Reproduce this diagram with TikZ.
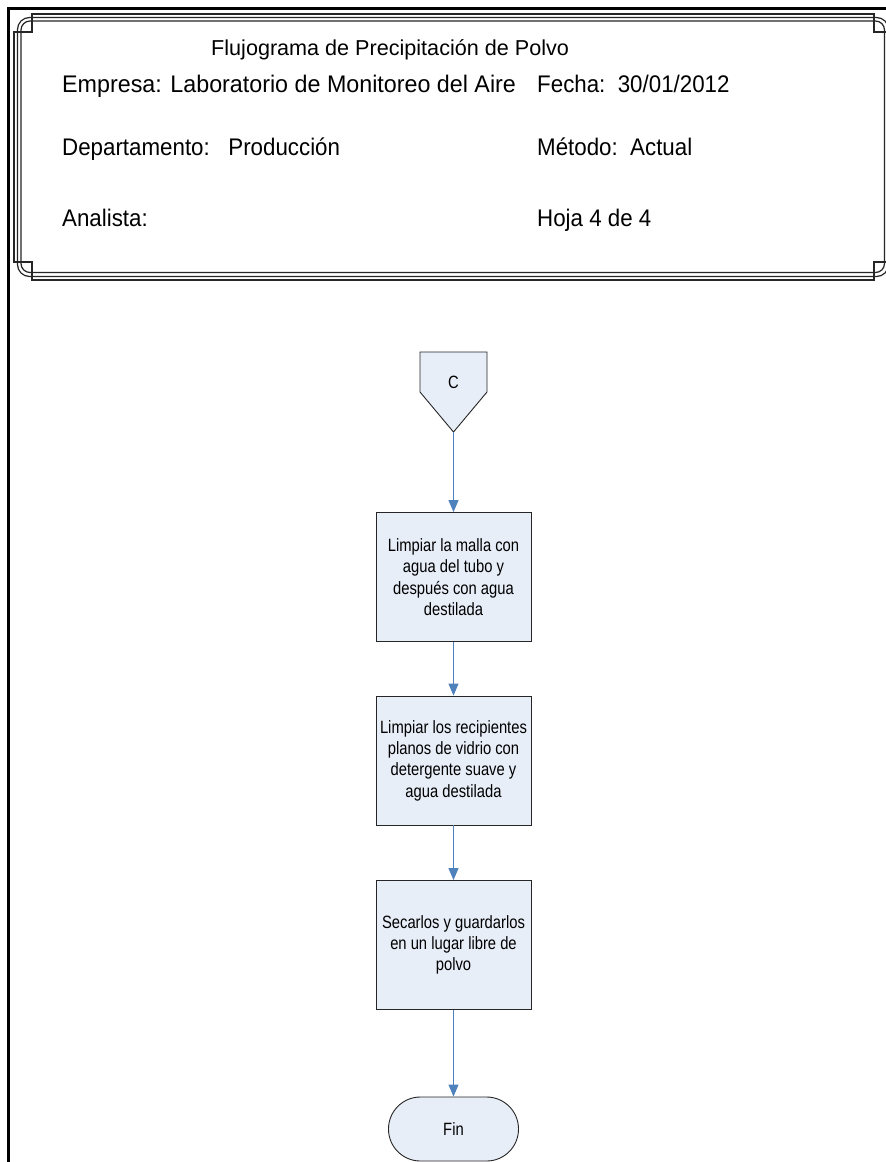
\documentclass[tikz,border=0pt]{standalone}
\usepackage{fontspec}
\setmainfont{Liberation Sans}
\newfontfamily\hdrfont[FakeStretch=0.93]{Liberation Sans}
\newfontfamily\widefont[FakeStretch=0.97]{Liberation Sans}
\newfontfamily\boxfont[FakeStretch=0.83]{Liberation Sans}
\usetikzlibrary{arrows.meta}
\definecolor{flowfill}{HTML}{E8EEF8}
\definecolor{flowblue}{HTML}{4F81BD}
\begin{document}
\begin{tikzpicture}[x=1pt,y=-1pt,
  framefine/.style={line width=1.2pt,black!85},
  hdr/.style={anchor=base west,inner sep=0pt,font=\fontsize{24}{24}\selectfont\hdrfont},
  stepbox/.style={draw=black!85,line width=0.9pt,fill=flowfill,minimum width=155pt,minimum height=129pt,inner sep=0pt,align=center,font=\fontsize{17.8}{21.3}\selectfont\boxfont},
  endbox/.style={draw=black!85,line width=0.9pt,fill=flowfill,minimum width=130pt,minimum height=64pt,rounded corners=31.9pt,inner sep=0pt,font=\fontsize{17.8}{21}\selectfont\boxfont},
  arr/.style={draw=flowblue,line width=1pt,-{Triangle[length=12pt,width=10pt]}}]
\useasboundingbox (0,0) rectangle (886,1162);
\fill[white] (0,0) rectangle (886,1162);

% page rule, left and top
\draw[line width=2.6pt,black,line cap=rect] (8.5,1170) -- (8.5,8.5) -- (890,8.5);

% header frame: outer line with square notches
\draw[framefine] (14,32) -- (32,32) -- (32,14) -- (874,14) -- (874,32) -- (892,32)
  -- (892,262) -- (874,262) -- (874,280) -- (32,280) -- (32,262) -- (14,262) -- cycle;
% header frame: middle and inner lines with rounded corners
\draw[framefine,rounded corners=12pt] (17.5,17.5) rectangle (888.5,276.5);
\draw[framefine,rounded corners=9pt] (21,21) rectangle (884.5,272.5);

% header texts
\node[anchor=base west,inner sep=0pt,font=\fontsize{21.6}{22}\selectfont] (title) at (211,55) {Flujograma de Precipitación de Polvo};
\node[hdr,font=\fontsize{24}{24}\selectfont\widefont] (empresa) at (62,92) {Empresa: Laboratorio de Monitoreo del Aire};
\node[hdr] (fecha) at (537,92) {Fecha:\ \ 30/01/2012};
\node[hdr] (depto) at (62,155) {Departamento:\ \ \ Producción};
\node[hdr] (metodo) at (537,155) {Método:\ \ Actual};
\node[hdr] (analista) at (62,226) {Analista:};
\node[hdr] (hoja) at (537,226) {Hoja 4 de 4};

% off-page connector C
\draw[draw=black!85,line width=0.9pt,fill=flowfill]
  (420,352) -- (487,352) -- (487,392) -- (453.5,432) -- (420,392) -- cycle;
\node[font=\fontsize{17.8}{20}\selectfont\boxfont] (C) at (453.5,382) {C};
\coordinate (Ctip) at (453.5,432);

% process steps
\node[stepbox] (s1) at (453.5,577) {Limpiar la malla con\\agua del tubo y\\después con agua\\destilada};
\node[stepbox] (s2) at (453.5,760.5) {Limpiar los recipientes\\planos de vidrio con\\detergente suave y\\agua destilada};
\node[stepbox] (s3) at (453.5,945) {Secarlos y guardarlos\\en un lugar libre de\\polvo};
\node[endbox] (fin) at (453.5,1129) {Fin};

% connectors
\draw[arr] (Ctip) -- (s1.north);
\draw[arr] (s1.south) -- (s2.north);
\draw[arr] (s2.south) -- (s3.north);
\draw[arr] (s3.south) -- (fin.north);
\end{tikzpicture}
\end{document}
